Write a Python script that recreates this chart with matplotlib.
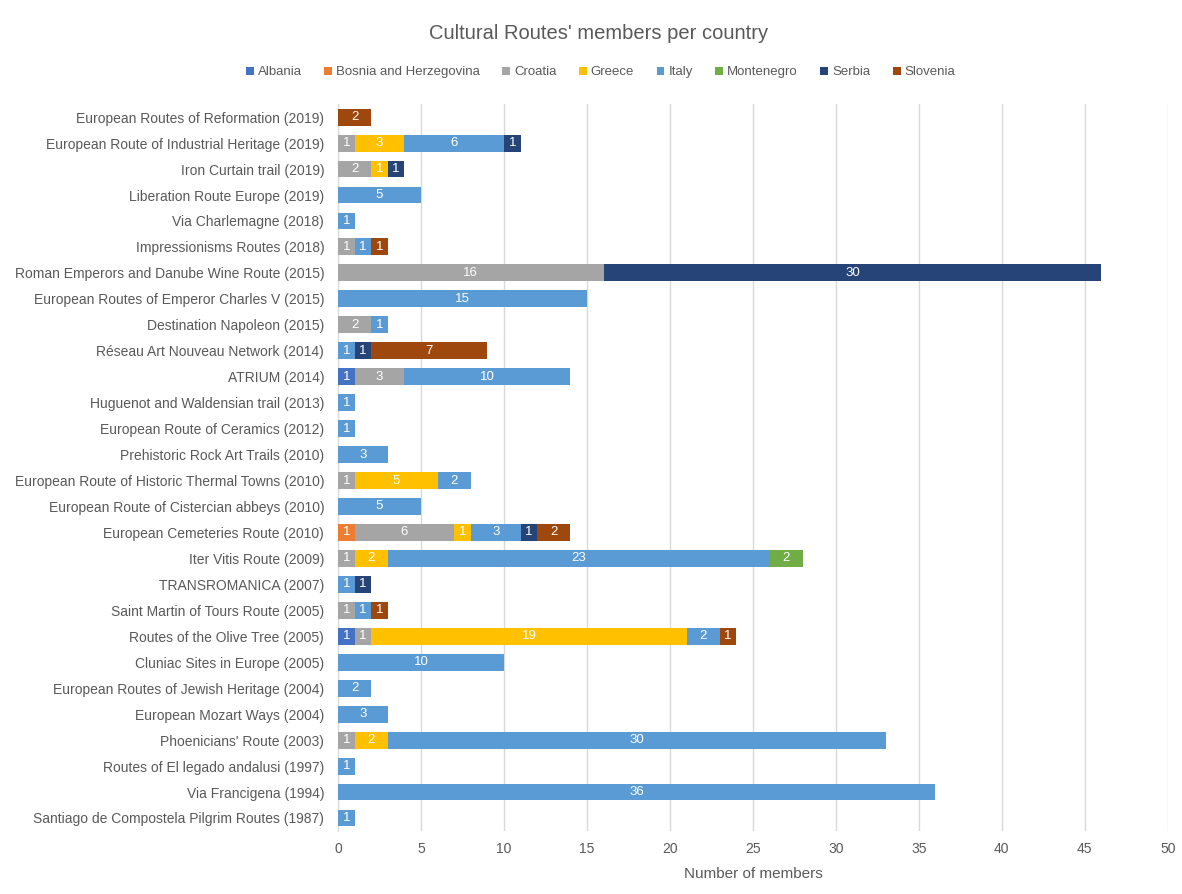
import matplotlib
matplotlib.use("Agg")
import matplotlib.pyplot as plt
import numpy as np

plt.rcParams['font.family'] = ['Liberation Sans', 'DejaVu Sans']

# routes, top to bottom as in the picture
routes = [
    "European Routes of Reformation (2019)",
    "European Route of Industrial Heritage (2019)",
    "Iron Curtain trail (2019)",
    "Liberation Route Europe (2019)",
    "Via Charlemagne (2018)",
    "Impressionisms Routes (2018)",
    "Roman Emperors and Danube Wine Route (2015)",
    "European Routes of Emperor Charles V (2015)",
    "Destination Napoleon (2015)",
    "Réseau Art Nouveau Network (2014)",
    "ATRIUM (2014)",
    "Huguenot and Waldensian trail (2013)",
    "European Route of Ceramics (2012)",
    "Prehistoric Rock Art Trails (2010)",
    "European Route of Historic Thermal Towns (2010)",
    "European Route of Cistercian abbeys (2010)",
    "European Cemeteries Route (2010)",
    "Iter Vitis Route (2009)",
    "TRANSROMANICA (2007)",
    "Saint Martin of Tours Route (2005)",
    "Routes of the Olive Tree (2005)",
    "Cluniac Sites in Europe (2005)",
    "European Routes of Jewish Heritage (2004)",
    "European Mozart Ways (2004)",
    "Phoenicians' Route (2003)",
    "Routes of El legado andalusi (1997)",
    "Via Francigena (1994)",
    "Santiago de Compostela Pilgrim Routes (1987)",
]

countries = ["Albania", "Bosnia and Herzegovina", "Croatia", "Greece",
             "Italy", "Montenegro", "Serbia", "Slovenia"]

albania    = [0, 0, 0, 0, 0, 0, 0, 0, 0, 0, 1, 0, 0, 0, 0, 0, 0, 0, 0, 0, 1, 0, 0, 0, 0, 0, 0, 0]
bosnia     = [0, 0, 0, 0, 0, 0, 0, 0, 0, 0, 0, 0, 0, 0, 0, 0, 1, 0, 0, 0, 0, 0, 0, 0, 0, 0, 0, 0]
croatia    = [0, 1, 2, 0, 0, 1, 16, 0, 2, 0, 3, 0, 0, 0, 1, 0, 6, 1, 0, 1, 1, 0, 0, 0, 1, 0, 0, 0]
greece     = [0, 3, 1, 0, 0, 0, 0, 0, 0, 0, 0, 0, 0, 0, 5, 0, 1, 2, 0, 0, 19, 0, 0, 0, 2, 0, 0, 0]
italy      = [0, 6, 0, 5, 1, 1, 0, 15, 1, 1, 10, 1, 1, 3, 2, 5, 3, 23, 1, 1, 2, 10, 2, 3, 30, 1, 36, 1]
montenegro = [0, 0, 0, 0, 0, 0, 0, 0, 0, 0, 0, 0, 0, 0, 0, 0, 0, 2, 0, 0, 0, 0, 0, 0, 0, 0, 0, 0]
serbia     = [0, 1, 1, 0, 0, 0, 30, 0, 0, 1, 0, 0, 0, 0, 0, 0, 1, 0, 1, 0, 0, 0, 0, 0, 0, 0, 0, 0]
slovenia   = [2, 0, 0, 0, 0, 1, 0, 0, 0, 7, 0, 0, 0, 0, 0, 0, 2, 0, 0, 1, 1, 0, 0, 0, 0, 0, 0, 0]

series = [albania, bosnia, croatia, greece, italy, montenegro, serbia, slovenia]
colors = ["#4472C4", "#ED7D31", "#A5A5A5", "#FFC000",
          "#5B9BD5", "#70AD47", "#264478", "#9E480E"]

text_col = "#595959"

fig = plt.figure(figsize=(11.82, 8.94), dpi=100)
ax = fig.add_axes([0.286, 0.0705, 0.702, 0.813])

y = np.arange(len(routes))
left = np.zeros(len(routes))
for name, vals, col in zip(countries, series, colors):
    vals = np.array(vals, dtype=float)
    bars = ax.barh(y, vals, left=left, height=0.65, color=col, label=name, zorder=3)
    labels = [f"{int(v)}" if v > 0 else "" for v in vals]
    ax.bar_label(bars, labels=labels, label_type="center", color="white", fontsize=9.5)
    left += vals

ax.set_ylim(len(routes) - 0.5, -0.5)
ax.set_yticks(y)
ax.set_yticklabels(routes, fontsize=10, color=text_col)
ax.set_xlim(0, 50)
ax.set_xticks(np.arange(0, 51, 5))
ax.tick_params(axis="x", labelsize=10, colors=text_col, length=0, pad=8)
ax.tick_params(axis="y", length=0, pad=10)
ax.grid(axis="x", color="#D9D9D9", linewidth=1, zorder=0)
for s in ["top", "right", "bottom"]:
    ax.spines[s].set_visible(False)
ax.spines["left"].set_color("#D9D9D9")

ax.set_xlabel("Number of members", fontsize=11, color=text_col, labelpad=8)

fig.text(0.506, 0.962, "Cultural Routes' members per country", ha="center", va="center",
         fontsize=14.5, color=text_col)

fig.legend(loc="center", bbox_to_anchor=(0.508, 0.919), ncol=8, frameon=False,
           fontsize=9.5, handlelength=0.6, handleheight=0.6, handletextpad=0.3,
           columnspacing=1.7, labelcolor=text_col)

fig.savefig("out.png", dpi=100)
